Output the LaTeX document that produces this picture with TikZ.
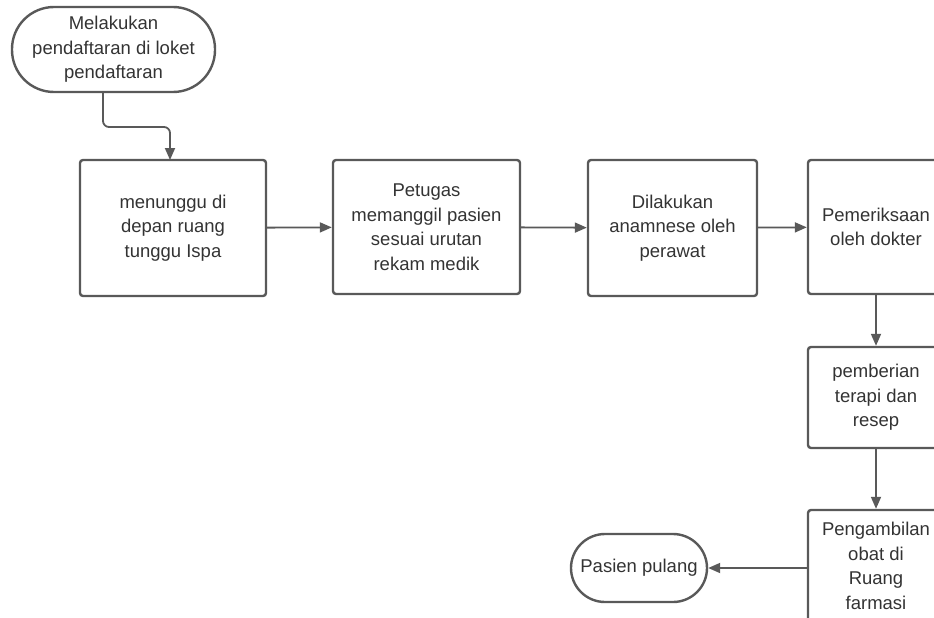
\documentclass[tikz,border=0pt]{standalone}
\usepackage{fontspec}
\setmainfont{Liberation Sans}
\usetikzlibrary{arrows.meta}
\definecolor{ln}{HTML}{595959}
\definecolor{tx}{HTML}{333333}
\begin{document}
\begin{tikzpicture}[x=1pt,y=1pt,
  box/.style={draw=ln,line width=2.4pt,rounded corners=3pt,align=center,text=tx,
    font=\fontsize{18.5}{24.5}\selectfont,inner sep=0pt},
  term/.style={box,rounded corners=34pt},
  conn/.style={draw=ln,line width=1.8pt,-{Triangle[length=12pt,width=10pt]}}]
\useasboundingbox (0,0) rectangle (934,-618);
\begin{scope}
\clip (0,0) rectangle (934,-618);
\node[term,rounded corners=42pt,minimum width=203pt,minimum height=85pt] (start) at (113.5,-49.5) {Melakukan\\pendaftaran di loket\\pendaftaran};
\node[box,minimum width=186pt,minimum height=136pt] (b1) at (173,-228) {menunggu di\\depan ruang\\tunggu Ispa};
\node[box,minimum width=187pt,minimum height=134pt] (b2) at (426.5,-227) {Petugas\\memanggil pasien\\sesuai urutan\\rekam medik};
\node[box,minimum width=169pt,minimum height=136pt] (b3) at (672.5,-228) {Dilakukan\\anamnese oleh\\perawat};
\node[box,minimum width=136pt,minimum height=134pt] (b4) at (876,-227) {Pemeriksaan\\oleh dokter};
\node[box,minimum width=136pt,minimum height=101pt] (b5) at (876,-397.5) {pemberian\\terapi dan\\resep};
\node[box,minimum width=136pt,minimum height=112pt] (b6) at (876,-566) {Pengambilan\\obat di\\Ruang\\farmasi};
\node[term,minimum width=136pt,minimum height=68pt] (end) at (639,-568) {Pasien pulang};
\coordinate (c1) at (103,-92);
\draw[conn,rounded corners=6pt] (c1) -- (103,-127) -- (170,-127) -- (170,-160);
\draw[conn] (b1) -- (b2);
\draw[conn] (b2) -- (b3);
\draw[conn] (b3) -- (b4);
\draw[conn] (b4) -- (b5);
\draw[conn] (b5) -- (b6);
\draw[conn] (b6.west |- end) -- (end);
\end{scope}
\end{tikzpicture}
\end{document}
